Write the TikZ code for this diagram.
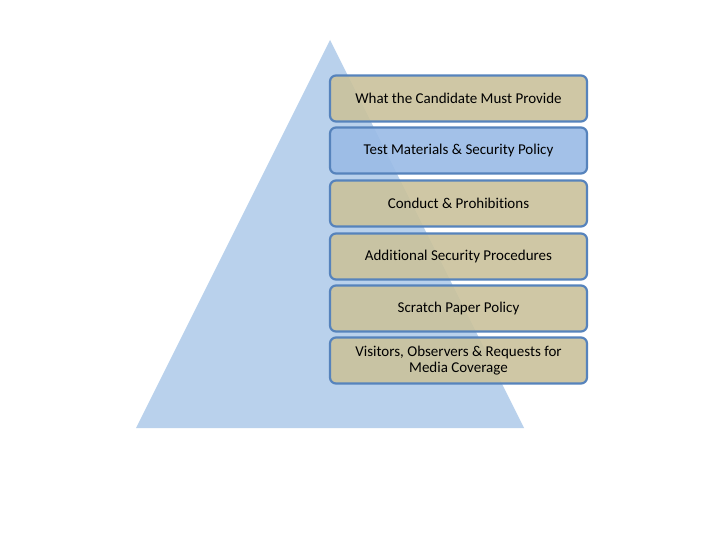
\documentclass[tikz,border=0pt]{standalone}
\usepackage{fontspec}
\setmainfont[Ligatures=NoCommon]{Carlito}
\definecolor{tri}{HTML}{B9D1EC}
\definecolor{tan}{HTML}{CAC29C}
\definecolor{bluebox}{HTML}{9ABBE6}
\definecolor{edge}{HTML}{5683BC}
\begin{document}
\begin{tikzpicture}[x=1pt,y=-1pt,
  layer/.style={draw=edge, line width=2.2pt, rounded corners=6pt, fill=tan, fill opacity=0.9, text opacity=1,
    minimum width=257pt, minimum height=46pt, align=center, font=\fontsize{15}{16.5}\selectfont, text=black, inner sep=2pt}]
\useasboundingbox (0,0) rectangle (720,540);
\fill[white] (0,0) rectangle (720,540);
\fill[tri] (330,40) coordinate (apex) -- (524,428) coordinate (br) -- (136,428) coordinate (bl) -- cycle;
\node[layer] (l1) at (458.5,98.5) {What the Candidate Must Provide};
\node[layer, fill=bluebox] (l2) at (458.5,150.5) {Test Materials \& Security Policy};
\node[layer] (l3) at (458.5,203.5) {Conduct \& Prohibitions};
\node[layer] (l4) at (458.5,256.5) {Additional Security Procedures};
\node[layer] (l5) at (458.5,308.5) {Scratch Paper Policy};
\node[layer] (l6) at (458.5,360.5) {Visitors, Observers \& Requests for\\Media Coverage};
\end{tikzpicture}
\end{document}
